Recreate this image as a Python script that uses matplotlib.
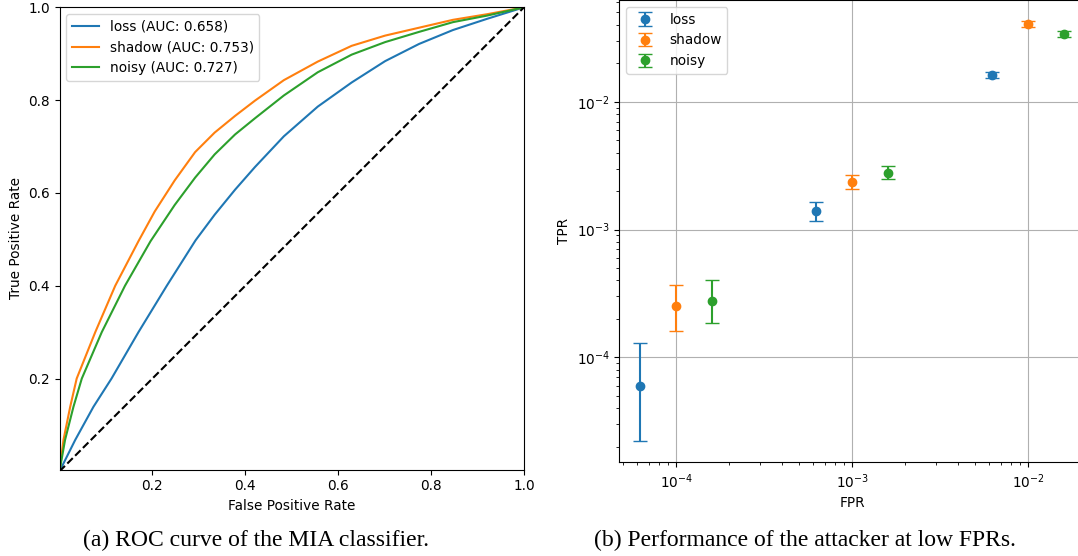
import matplotlib
matplotlib.use("Agg")
import matplotlib.pyplot as plt

# ---------------------------------------------------------------------
# Data
# ---------------------------------------------------------------------

# (a) ROC curves
LOSS_FPR = [0, 0.034, 0.073, 0.112, 0.170, 0.231, 0.293, 0.334, 0.378, 0.421,
            0.483, 0.556, 0.629, 0.701, 0.774, 0.847, 0.920, 1.0]
LOSS_TPR = [0, 0.068, 0.139, 0.200, 0.300, 0.400, 0.498, 0.553, 0.607, 0.656,
            0.722, 0.786, 0.838, 0.884, 0.921, 0.951, 0.975, 1.0]

SHADOW_FPR = [0, 0.0086, 0.023, 0.037, 0.077, 0.120, 0.170, 0.205, 0.248, 0.292, 0.334,
              0.378, 0.421, 0.483, 0.556, 0.629, 0.701, 0.774, 0.847, 0.920, 1.0]
SHADOW_TPR = [0, 0.068, 0.139, 0.200, 0.300, 0.400, 0.496, 0.560, 0.627, 0.688, 0.730,
              0.766, 0.799, 0.843, 0.883, 0.917, 0.939, 0.956, 0.973, 0.985, 1.0]

NOISY_FPR = [0, 0.012, 0.030, 0.048, 0.091, 0.141, 0.196, 0.248, 0.292, 0.334, 0.378,
             0.421, 0.483, 0.556, 0.629, 0.701, 0.774, 0.847, 0.920, 1.0]
NOISY_TPR = [0, 0.068, 0.139, 0.200, 0.300, 0.400, 0.496, 0.574, 0.633, 0.683, 0.726,
             0.761, 0.810, 0.860, 0.898, 0.925, 0.947, 0.968, 0.982, 1.0]

ROC_LABELS = ["loss (AUC: 0.658)", "shadow (AUC: 0.753)", "noisy (AUC: 0.727)"]

# (b) TPR at low FPRs, with lower / upper bounds
ATTACKS = ["loss", "shadow", "noisy"]
LOW_FPR = {
    "loss": [6.25e-5, 6.25e-4, 6.25e-3],
    "shadow": [1e-4, 1e-3, 1e-2],
    "noisy": [1.6e-4, 1.6e-3, 1.6e-2],
}
LOW_TPR = {
    "loss": [6.0e-5, 1.40e-3, 1.62e-2],
    "shadow": [2.5e-4, 2.36e-3, 4.05e-2],
    "noisy": [2.77e-4, 2.77e-3, 3.38e-2],
}
TPR_LO = {
    "loss": [2.2e-5, 1.17e-3, 1.52e-2],
    "shadow": [1.61e-4, 2.06e-3, 3.84e-2],
    "noisy": [1.87e-4, 2.47e-3, 3.22e-2],
}
TPR_HI = {
    "loss": [1.3e-4, 1.64e-3, 1.72e-2],
    "shadow": [3.7e-4, 2.69e-3, 4.26e-2],
    "noisy": [4.05e-4, 3.14e-3, 3.55e-2],
}

CAPTION_A = "(a) ROC curve of the MIA classifier."
CAPTION_B = "(b) Performance of the attacker at low FPRs."

# ---------------------------------------------------------------------
# Figure
# ---------------------------------------------------------------------

plt.rcParams["font.size"] = 9.8
W, H = 1078, 556
fig = plt.figure(figsize=(W / 100, H / 100), dpi=100)

# left panel: ROC
ax1 = fig.add_axes([59.5 / W, 1 - 469.5 / H, 464.5 / W, 462.2 / H])
ax1.plot(LOSS_FPR, LOSS_TPR, lw=1.5, label=ROC_LABELS[0])
ax1.plot(SHADOW_FPR, SHADOW_TPR, lw=1.5, label=ROC_LABELS[1])
ax1.plot(NOISY_FPR, NOISY_TPR, lw=1.5, label=ROC_LABELS[2])
ax1.plot([0, 1], [0, 1], "k--", lw=1.5)
ax1.set_xlim(0, 1)
ax1.set_ylim(0.004, 1)
ax1.set_xticks([0.2, 0.4, 0.6, 0.8, 1.0])
ax1.set_yticks([0.2, 0.4, 0.6, 0.8, 1.0])
ax1.set_xlabel("False Positive Rate")
ax1.set_ylabel("True Positive Rate")
ax1.legend(loc="upper left")

# right panel: low FPR regime
ax2 = fig.add_axes([619.3 / W, 1 - 462.3 / H, 466 / W, 462.0 / H])
for name in ATTACKS:
    y = LOW_TPR[name]
    err = [[v - lo for v, lo in zip(y, TPR_LO[name])],
           [hi - v for v, hi in zip(y, TPR_HI[name])]]
    ax2.errorbar(LOW_FPR[name], y, yerr=err, fmt="o", capsize=5, label=name)
ax2.set_xscale("log")
ax2.set_yscale("log")
ax2.set_xlabel("FPR")
ax2.set_ylabel("TPR")
ax2.grid(True)
ax2.legend(loc="upper left")

fig.text(256 / W, 1 - 540 / H, CAPTION_A, family="Liberation Serif", fontsize=17,
         ha="center", va="center")
fig.text(805 / W, 1 - 540 / H, CAPTION_B, family="Liberation Serif", fontsize=17,
         ha="center", va="center")

fig.savefig("out.png", dpi=100)
